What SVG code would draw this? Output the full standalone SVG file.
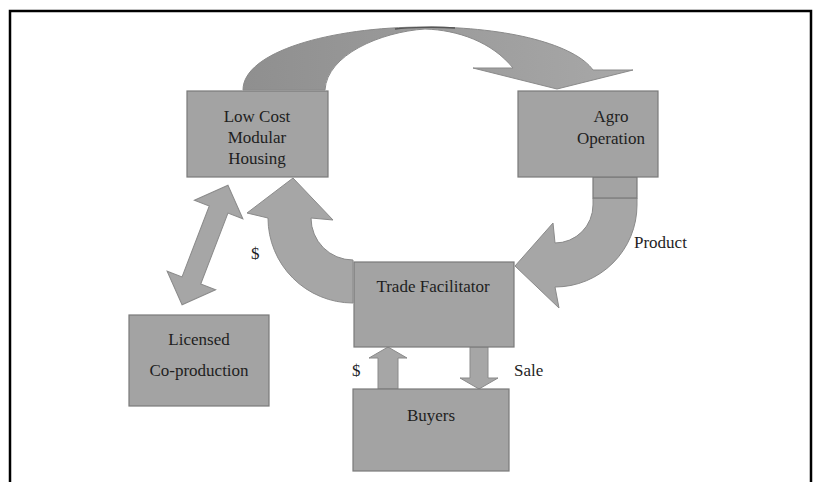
<svg xmlns="http://www.w3.org/2000/svg" width="820" height="482" viewBox="0 0 820 482">
<defs>
<style>
.box{fill:#a3a3a3;stroke:#7a7a7a;stroke-width:1.2}
.arr{fill:#a6a6a6;stroke:#8a8a8a;stroke-width:1}
.t{font-family:"Liberation Serif","Times New Roman",serif;font-size:17px;fill:#1e1e1e;text-anchor:middle}
.lbl{font-family:"Liberation Serif","Times New Roman",serif;font-size:17px;fill:#1e1e1e}
</style>
<linearGradient id="topg" x1="243" y1="0" x2="633" y2="0" gradientUnits="userSpaceOnUse">
<stop offset="0" stop-color="#8f8f8f"/>
<stop offset="0.45" stop-color="#9a9a9a"/>
<stop offset="1" stop-color="#a8a8a8"/>
</linearGradient>
</defs>
<rect x="0" y="0" width="820" height="482" fill="#ffffff"/>
<g id="frame" fill="none" stroke="#000" stroke-width="2.5">
<path d="M10,482 L10,11 L811,11 L811,482"/>
</g>
<g id="connectors">
<path class="arr" style="fill:url(#topg)" d="M243,90 C243,52 330,27 425,27 C510,27 575,45 593,70 L633,70 L557,89 L473,68 L513,68 C492,42 458,30 425,29 C380,32 327,55 325,90 Z"/>
<path d="M395,29 C410,27 440,27 455,28" fill="none" stroke="#555" stroke-width="1.5"/>
<path class="arr" d="M637,198 L637,205 A82,82 0 0 1 555,287 L559,308 L515,266 L553,223 L555,243 A38,38 0 0 0 593,205 L593,198 Z"/>
<path class="arr" d="M353,303 A85,85 0 0 1 268,218 L247,213 L293,178 L333,220 L311,218 A42,42 0 0 0 353,260 Z"/>
<path class="arr" transform="translate(205,245) rotate(-69)" d="M64,0 L38,-26 L38,-10 L-38,-10 L-38,-26 L-64,0 L-38,26 L-38,10 L38,10 L38,26 Z"/>
<path class="arr" d="M378,389 L378,358 L369,358 L388,347 L407,358 L398,358 L398,389 Z"/>
<path class="arr" d="M470,347 L470,378 L460,378 L479,389 L498,378 L488,378 L488,347 Z"/>
</g>
<g id="stub"><rect class="box" x="593" y="177" width="44" height="21"/></g>
<g id="housing">
<rect class="box" x="187" y="91" width="141" height="86"/>
<text class="t" x="257" y="122">Low Cost</text>
<text class="t" x="257" y="143">Modular</text>
<text class="t" x="257" y="164">Housing</text>
</g>
<g id="agro">
<rect class="box" x="518" y="91" width="140" height="86"/>
<text class="t" x="611" y="122">Agro</text>
<text class="t" x="611" y="144">Operation</text>
</g>
<g id="trade">
<rect class="box" x="354" y="262" width="160" height="85"/>
<text class="t" x="433" y="292">Trade Facilitator</text>
</g>
<g id="licensed">
<rect class="box" x="129" y="315" width="140" height="91"/>
<text class="t" x="199" y="345">Licensed</text>
<text class="t" x="199" y="376">Co-production</text>
</g>
<g id="buyers">
<rect class="box" x="353" y="389" width="156" height="82"/>
<text class="t" x="431" y="421">Buyers</text>
</g>
<g id="labels">
<text class="lbl" x="251" y="259">$</text>
<text class="lbl" x="352" y="376">$</text>
<text class="lbl" x="514" y="376">Sale</text>
<text class="lbl" x="634" y="248">Product</text>
</g>
</svg>
